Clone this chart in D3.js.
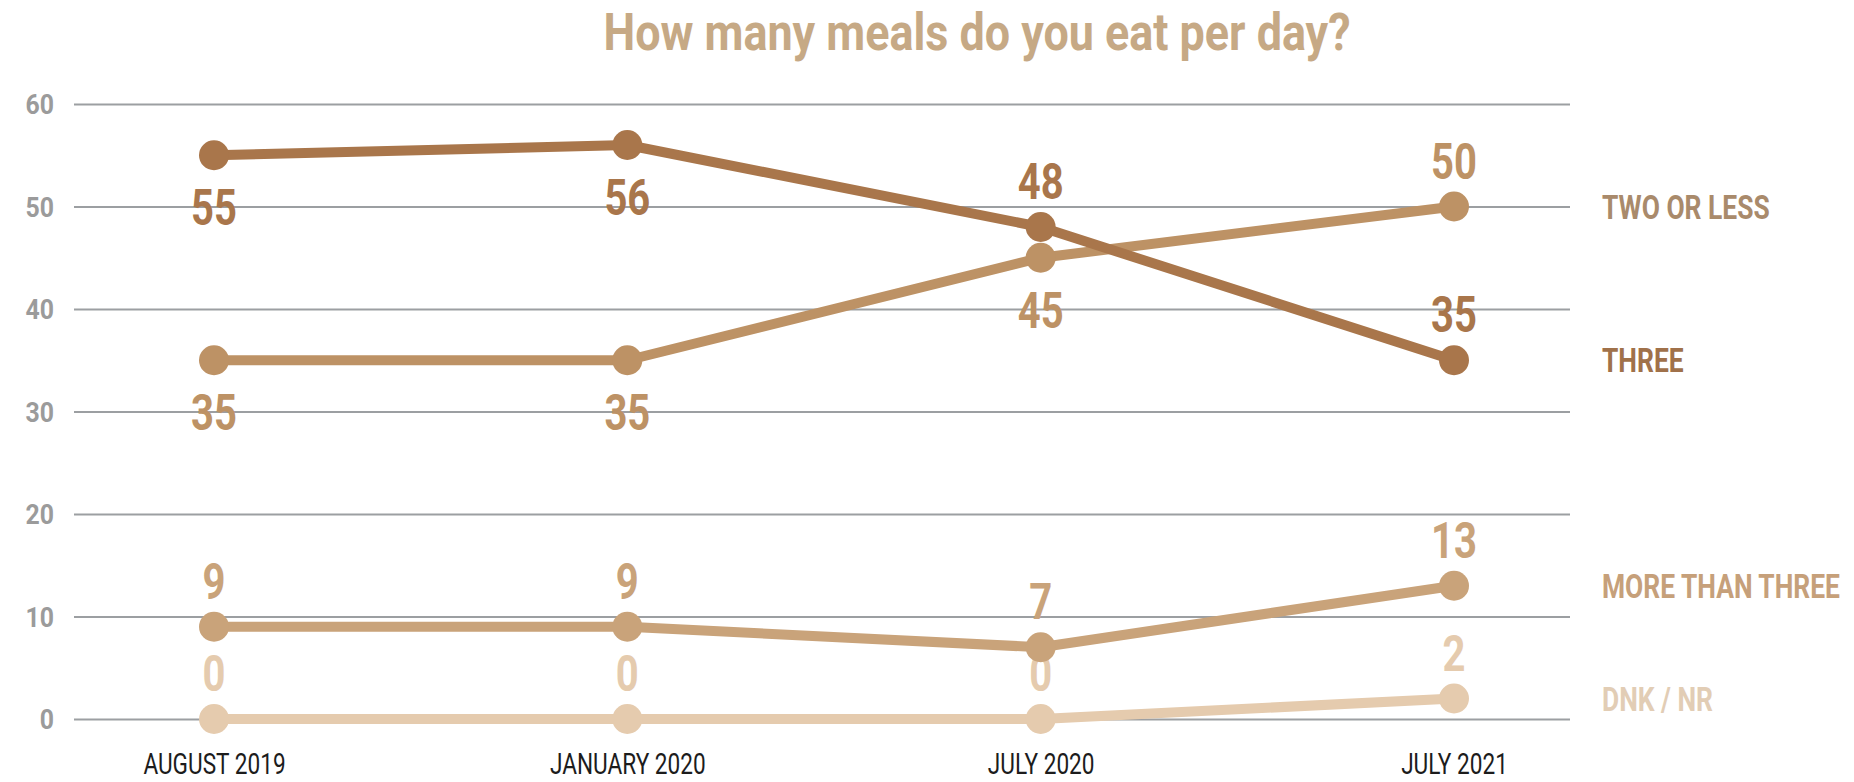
<!DOCTYPE html>
<html>
<head>
<meta charset="utf-8">
<script src="https://cdn.jsdelivr.net/npm/d3@7/dist/d3.min.js"></script>
<style>
  html, body { margin: 0; padding: 0; background: #ffffff; }
  svg { display: block; }
  text { font-family: Roboto, "Noto Sans", sans-serif; }
</style>
</head>
<body>
<svg id="chart" width="1854" height="782"></svg>
<script>
// Survey waves along the horizontal axis
const waves = ["AUGUST 2019", "JANUARY 2020", "JULY 2020", "JULY 2021"];

// Share of respondents (%) per answer, one value per wave
const twoOrLess     = [35, 35, 45, 50];
const three         = [55, 56, 48, 35];
const moreThanThree = [9, 9, 7, 13];
const dnkNr         = [0, 0, 0, 2];

// Where each value label sits relative to its point
const twoOrLessSide     = ["below", "below", "below", "above"];
const threeSide         = ["below", "below", "above", "above"];
const moreThanThreeSide = ["above", "above", "above", "above"];
const dnkNrSide         = ["above", "above", "above", "above"];

const yTicks = [0, 10, 20, 30, 40, 50, 60];
const title = "How many meals do you eat per day?";

const series = [
  { name: "DNK / NR",        values: dnkNr,         side: dnkNrSide,         line: "#e5cbae", label: "#e2cdb5" },
  { name: "MORE THAN THREE", values: moreThanThree, side: moreThanThreeSide, line: "#c9a37a", label: "#c6a07a" },
  { name: "TWO OR LESS",     values: twoOrLess,     side: twoOrLessSide,     line: "#bd9265", label: "#a98a6b" },
  { name: "THREE",           values: three,         side: threeSide,         line: "#a9764b", label: "#a0714a" }
];

const svg = d3.select("#chart");

const x = d3.scalePoint().domain(waves).range([214, 1454]);
const y = d3.scaleLinear().domain([0, 60]).range([719, 104]);

// Narrow a text horizontally around its anchor point (condensed lettering)
function squeeze(sel, k) {
  sel.each(function () {
    const t = d3.select(this);
    const tx = +t.attr("x") || 0, ty = +t.attr("y") || 0;
    t.attr("x", 0).attr("y", 0)
     .attr("transform", `translate(${tx},${ty}) scale(${k},1)`);
  });
}

// Title
svg.append("text")
  .attr("x", 977).attr("y", 50)
  .attr("text-anchor", "middle")
  .attr("font-size", 51).attr("font-weight", "bold")
  .attr("fill", "#c6a985")
  .text(title)
  .call(squeeze, 0.88);

// Horizontal gridlines with value labels on the left
const yAxis = d3.axisLeft(y).tickValues(yTicks).tickSize(-(1570 - 74)).tickPadding(20);
const gy = svg.append("g").attr("transform", "translate(74,0)").call(yAxis);
gy.select(".domain").remove();
gy.selectAll(".tick line").attr("stroke", "#9c9fa2").attr("stroke-width", 2);
gy.selectAll(".tick text")
  .attr("fill", "#9b9b9b").attr("font-size", 27).attr("font-weight", "bold")
  .attr("font-family", "Roboto, sans-serif")
  .attr("x", -20).attr("dy", "0.36em")
  .call(squeeze, 0.92);

// Wave labels along the bottom
const xAxis = d3.axisBottom(x).tickSize(0).tickPadding(0);
const gx = svg.append("g").attr("transform", "translate(0,774)").call(xAxis);
gx.select(".domain").remove();
gx.selectAll(".tick text")
  .attr("dy", 0).attr("y", 0)
  .attr("fill", "#1c1c1c").attr("font-size", 29)
  .attr("font-family", "Roboto, sans-serif")
  .call(squeeze, 0.78);

const line = d3.line().x((d, i) => x(waves[i])).y(d => y(d));

// Lines, dots and value labels
series.forEach(s => {
  const g = svg.append("g");
  g.append("path")
    .datum(s.values)
    .attr("d", line)
    .attr("fill", "none")
    .attr("stroke", s.line)
    .attr("stroke-width", 10)
    .attr("stroke-linejoin", "round");

  g.selectAll("circle")
    .data(s.values)
    .join("circle")
    .attr("cx", (d, i) => x(waves[i]))
    .attr("cy", d => y(d))
    .attr("r", 15)
    .attr("fill", s.line);

  g.selectAll("text.value")
    .data(s.values)
    .join("text")
    .attr("class", "value")
    .attr("x", (d, i) => x(waves[i]))
    .attr("y", (d, i) => y(d) + (s.side[i] === "above" ? -28 : 70))
    .attr("text-anchor", "middle")
    .attr("font-size", 50).attr("font-weight", "bold")
    .attr("fill", s.line)
    .text(d => d)
    .call(squeeze, 0.8);

  // Series name to the right of the last point
  const last = s.values[s.values.length - 1];
  svg.append("text")
    .attr("x", 1602)
    .attr("y", y(last) + 12)
    .attr("font-size", 33).attr("font-weight", "bold")
    .attr("fill", s.label)
    .text(s.name)
    .call(squeeze, 0.8);
});
</script>
</body>
</html>
